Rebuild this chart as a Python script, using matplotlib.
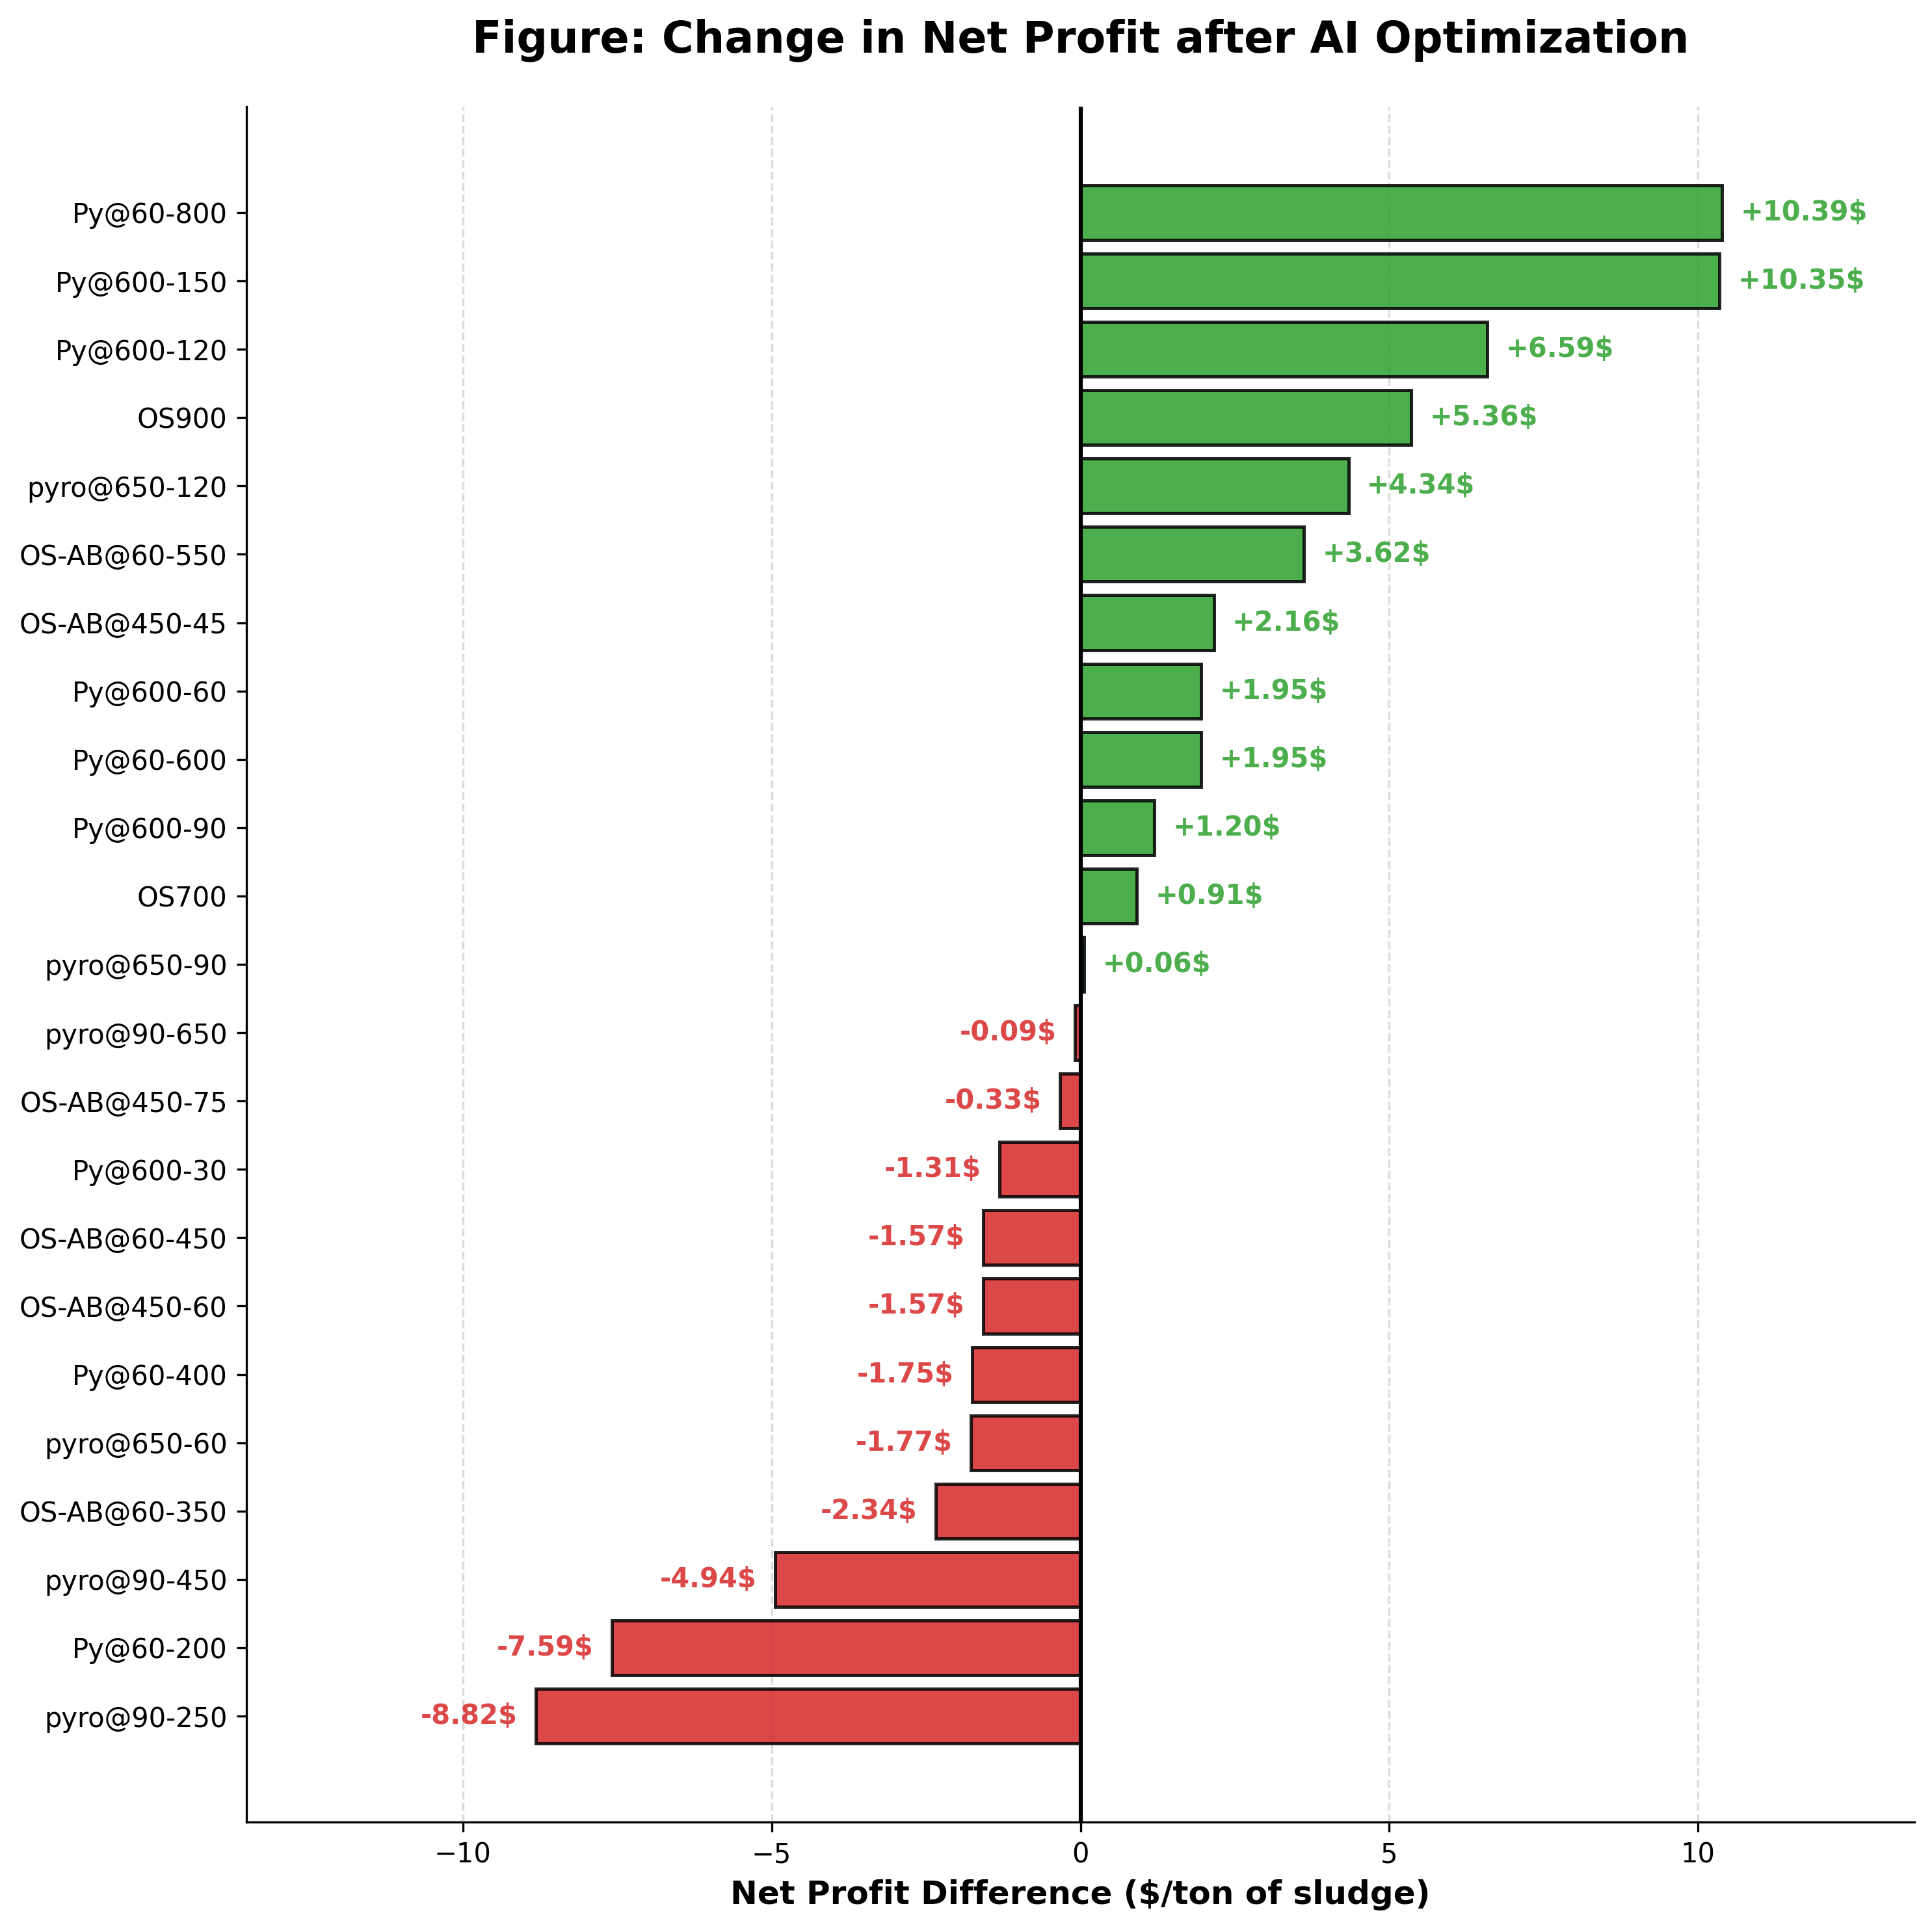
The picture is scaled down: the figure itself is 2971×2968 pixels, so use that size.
import matplotlib
matplotlib.use("Agg")
import matplotlib.pyplot as plt
import numpy as np

labels = ["Py@60-800", "Py@600-150", "Py@600-120", "OS900", "pyro@650-120",
          "OS-AB@60-550", "OS-AB@450-45", "Py@600-60", "Py@60-600", "Py@600-90",
          "OS700", "pyro@650-90", "pyro@90-650", "OS-AB@450-75", "Py@600-30",
          "OS-AB@60-450", "OS-AB@450-60", "Py@60-400", "pyro@650-60",
          "OS-AB@60-350", "pyro@90-450", "Py@60-200", "pyro@90-250"]
values = [10.39, 10.35, 6.59, 5.36, 4.34, 3.62, 2.16, 1.95, 1.95, 1.20,
          0.91, 0.06, -0.09, -0.33, -1.31, -1.57, -1.57, -1.75, -1.77,
          -2.34, -4.94, -7.59, -8.82]

# plot from bottom (smallest) to top (largest)
labels_b = labels[::-1]
values_b = values[::-1]

GREEN = "#2ca02c"
RED = "#d62728"

W, H = 2971, 2968
fig = plt.figure(figsize=(W / 300, H / 300), dpi=300)
ax = fig.add_axes([379 / W, (H - 2802) / H, 2565 / W, 2638 / H])

y = np.arange(len(values_b))
colors = [GREEN if v >= 0 else RED for v in values_b]
ax.barh(y, values_b, height=0.8, color=colors, alpha=0.85,
        edgecolor="black", linewidth=1.2, zorder=3)

ax.axvline(0, color="black", linewidth=1.5, zorder=4)

for yi, v in zip(y, values_b):
    if v >= 0:
        ax.text(v + 0.3, yi, f"+{v:.2f}$", ha="left", va="center",
                fontsize=10, fontweight="bold", color=GREEN, alpha=0.85)
    else:
        ax.text(v - 0.3, yi, f"{v:.2f}$", ha="right", va="center",
                fontsize=10, fontweight="bold", color=RED, alpha=0.85)

ax.set_yticks(y)
ax.set_yticklabels(labels_b, fontsize=10)
ax.tick_params(axis="x", labelsize=10)

m = max(abs(v) for v in values) * 1.3
ax.set_xlim(-m, m)
ax.set_ylim(-1.55, len(values_b) - 1 + 1.55)

ax.grid(axis="x", linestyle="--", color="lightgray", alpha=0.8, linewidth=0.8, zorder=0)
ax.spines["top"].set_visible(False)
ax.spines["right"].set_visible(False)

ax.set_xlabel("Net Profit Difference ($/ton of sludge)", fontsize=12, fontweight="bold")
ax.set_title("Figure: Change in Net Profit after AI Optimization", fontsize=16,
             fontweight="bold", pad=20)

fig.savefig("out.png", dpi=300)
